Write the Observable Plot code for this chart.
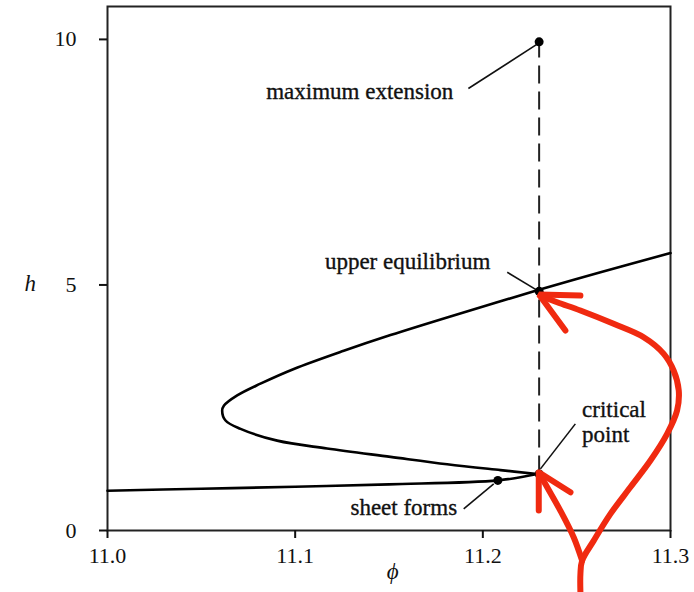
<!DOCTYPE html>
<html>
<head>
<meta charset="utf-8">
<script src="https://cdn.jsdelivr.net/npm/d3@7"></script>
<script src="https://cdn.jsdelivr.net/npm/@observablehq/plot@0.6"></script>
<style>
  html, body { margin: 0; padding: 0; background: #fff; }
  #chart svg { display: block; }
</style>
</head>
<body>
<div id="chart"></div>
<script>
// Lower (stable) branch of h against phi, ending at the critical point
const lowerPhi = [11.0, 11.05, 11.1, 11.15, 11.208, 11.229];
const lowerH   = [0.81, 0.85, 0.89, 0.94, 1.02, 1.15];

// Folded branch: from the critical point back round the nose and up the upper branch
const foldPhi = [11.229, 11.2094, 11.181, 11.1508, 11.117, 11.0904, 11.0709, 11.0629, 11.0611,
                 11.062, 11.0691, 11.0815, 11.0993, 11.1259, 11.1508, 11.1827, 11.229, 11.2627, 11.3];
const foldH   = [1.15, 1.23, 1.35, 1.50, 1.67, 1.83, 2.07, 2.24, 2.44,
                 2.54, 2.75, 2.99, 3.29, 3.66, 3.98, 4.36, 4.89, 5.26, 5.65];

// Marked states
const keyNames = ["maximum extension", "upper equilibrium", "critical\npoint", "sheet forms"];
const keyPhi   = [11.23, 11.23, 11.23, 11.208];
const keyH     = [9.95, 4.87, 1.15, 1.02];

// Where each label sits and where its leader line starts (data units)
const labelPhi    = [11.1843, 11.2040, 11.2529, 11.1863];
const labelH      = [8.96, 5.497, 2.228, 0.4725];
const labelAnchor = ["end", "end", "start", "end"];
const leaderPhi1  = [11.1923, 11.2130, 11.2493, 11.1898];
const leaderH1    = [9.00, 5.259, 2.171, 0.44];
const leaderPhi2  = [11.2296, 11.2290, 11.2307, 11.2058];
const leaderH2    = [9.918, 4.89, 1.255, 0.949];

// Axis ticks
const phiTicks = [11.0, 11.1, 11.2, 11.3];
const hTicks   = [0, 5, 10];

// Hand-drawn red arrows
const arrowAPhi = [11.2520, 11.2520, 11.2529, 11.2591, 11.2680, 11.2786, 11.2893, 11.2982, 11.3035,
                   11.3044, 11.3017, 11.2964, 11.2857, 11.2697, 11.2520, 11.2396, 11.2307];
const arrowAH   = [-1.265, -0.884, -0.613, -0.206, 0.338, 0.880, 1.424, 1.967, 2.442,
                   2.849, 3.256, 3.597, 3.935, 4.208, 4.479, 4.648, 4.784];
const headAPhi  = [11.2520, 11.2299, 11.2440];
const headAH    = [4.784, 4.804, 4.071];
const arrowBPhi = [11.2529, 11.2484, 11.2413, 11.2343, 11.2298];
const arrowBH   = [-0.613, -0.138, 0.405, 0.880, 1.185];
const headBPhi  = [11.2467, 11.2298, 11.2298];
const headBH    = [0.778, 1.185, 0.405];

const lower = lowerPhi.map((p, i) => ({phi: p, h: lowerH[i]}));
const fold = foldPhi.map((p, i) => ({phi: p, h: foldH[i]}));
const keys = keyNames.map((name, i) => ({
  name, phi: keyPhi[i], h: keyH[i],
  lx: labelPhi[i], ly: labelH[i], anchor: labelAnchor[i],
  x1: leaderPhi1[i], y1: leaderH1[i], x2: leaderPhi2[i], y2: leaderH2[i]
}));
const pts = (xs, ys) => xs.map((x, i) => ({phi: x, h: ys[i]}));

const serif = "'Liberation Serif', 'DejaVu Serif', serif";
const red = "#f02a10";
const labelStyle = {x: "lx", y: "ly", text: "name", fontSize: 23, lineHeight: 1.09, fill: "#111",
                    stroke: "#111", strokeWidth: 0.35};

const chart = Plot.plot({
  width: 694,
  height: 592,
  marginLeft: 107,
  marginRight: 24,
  marginTop: 6,
  marginBottom: 62,
  style: {fontFamily: serif, fontSize: "22px", color: "#111", background: "#fff", overflow: "visible"},
  x: {domain: [11.0, 11.3]},
  y: {domain: [0, 10.67]},
  marks: [
    Plot.frame({stroke: "#222", strokeWidth: 2}),
    Plot.axisX({ticks: phiTicks, tickFormat: d3.format(".1f"), tickSize: 8, tickPadding: 9,
                strokeWidth: 2, fontSize: 22, label: null}),
    Plot.axisY({ticks: hTicks, tickFormat: d3.format("d"), tickSize: 8, tickPadding: 23,
                strokeWidth: 2, fontSize: 22, label: null}),
    Plot.text(["h"], {frameAnchor: "left", y: 5.03, dx: -83, text: d => d,
                      fontStyle: "italic", fontSize: 23}),
    Plot.text(["\u03d5"], {frameAnchor: "bottom", x: 11.152, dy: 48, text: d => d,
                           fontStyle: "italic", fontSize: 23}),
    // dashed line from the critical point up to maximum extension
    Plot.ruleX([11.23], {y1: keyH[2], y2: keyH[0], stroke: "#222", strokeWidth: 2,
                         strokeDasharray: "18,8"}),
    Plot.line(lower, {x: "phi", y: "h", curve: "catmull-rom", stroke: "#000", strokeWidth: 2.6}),
    Plot.line(fold, {x: "phi", y: "h", curve: "catmull-rom", stroke: "#000", strokeWidth: 2.6}),
    Plot.link(keys, {x1: "x1", y1: "y1", x2: "x2", y2: "y2", stroke: "#111", strokeWidth: 1.6}),
    Plot.dot(keys, {x: "phi", y: "h", r: 4.5, fill: "#000"}),
    Plot.text(keys, {...labelStyle, filter: d => d.anchor === "end", textAnchor: "end"}),
    Plot.text(keys, {...labelStyle, filter: d => d.anchor === "start", textAnchor: "start"}),
    // red arrows
    Plot.line(pts(arrowAPhi, arrowAH), {x: "phi", y: "h", curve: "catmull-rom", stroke: red,
              strokeWidth: 6, strokeLinejoin: "round"}),
    Plot.line(pts(headAPhi, headAH), {x: "phi", y: "h", stroke: red, strokeWidth: 6,
              strokeLinejoin: "miter"}),
    Plot.line(pts(arrowBPhi, arrowBH), {x: "phi", y: "h", curve: "catmull-rom", stroke: red,
              strokeWidth: 6, strokeLinejoin: "round"}),
    Plot.line(pts(headBPhi, headBH), {x: "phi", y: "h", stroke: red, strokeWidth: 6,
              strokeLinejoin: "miter"})
  ]
});

document.getElementById("chart").appendChild(chart);
</script>
</body>
</html>
